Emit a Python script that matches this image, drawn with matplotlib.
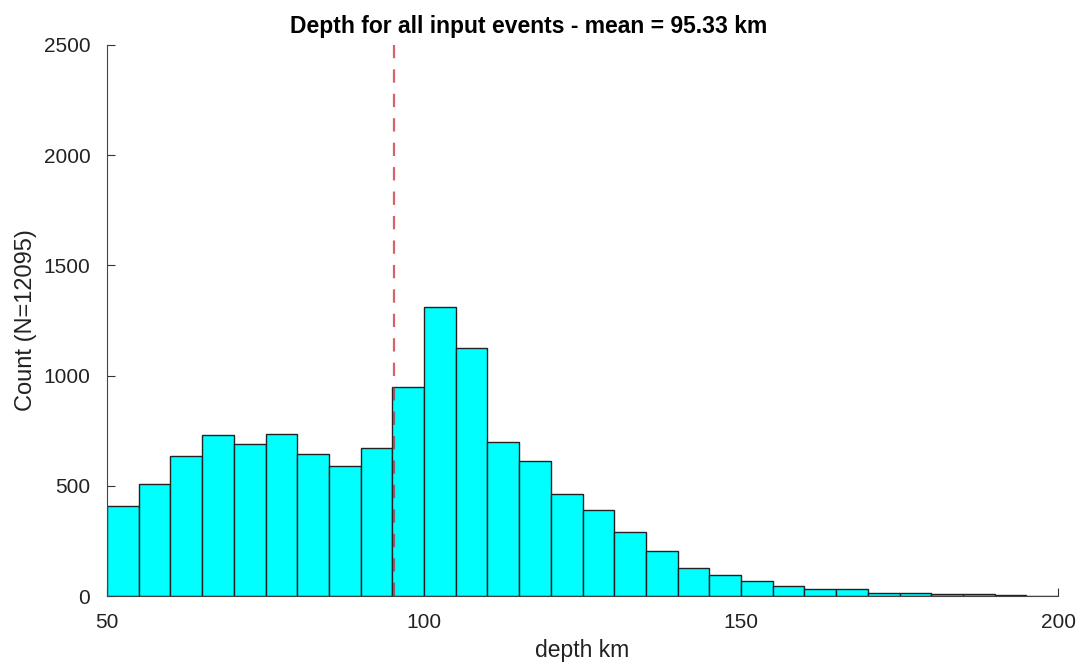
import numpy as np
import matplotlib
matplotlib.use("Agg")
import matplotlib.pyplot as plt

plt.rcParams['font.family'] = ['Liberation Sans', 'DejaVu Sans']

# histogram of depths, 5 km bins from 50 to 200
bin_edges = np.arange(50, 205, 5)
counts = [410, 510, 633, 730, 688, 733, 644, 591, 671, 948,
          1309, 1126, 697, 614, 464, 390, 291, 205, 127, 95,
          70, 47, 33, 33, 14, 14, 8, 8, 3, 1]
mean_depth = 95.33
n_events = 12095

fig = plt.figure(figsize=(10.8, 6.65), dpi=100)
ax = fig.add_axes([107 / 1080, 1 - 596 / 665, 951 / 1080, 551 / 665])

ax.bar(bin_edges[:-1], counts, width=5, align='edge',
       color='#00ffff', edgecolor='#222222', linewidth=1.0, zorder=2)
# semi-transparent red: pink on white, greyish over the cyan bars
ax.axvline(mean_depth, color='#c81e2e', alpha=0.7, linestyle=(0, (6, 5)),
           linewidth=1.6, zorder=3)

ax.set_xlim(50, 200)
ax.set_ylim(0, 2500)
ax.set_xticks([50, 100, 150, 200])
ax.set_yticks([0, 500, 1000, 1500, 2000, 2500])
ax.tick_params(direction='in', length=6, labelsize=15, colors='#333333',
               labelcolor='#222222', pad=12)
for side in ['top', 'right']:
    ax.spines[side].set_visible(False)
for side in ['left', 'bottom']:
    ax.spines[side].set_color('#444444')

ax.set_xlabel('depth km', fontsize=16.5, color='#222222', labelpad=5)
ax.set_ylabel(f'Count (N={n_events})', fontsize=17, color='#222222', labelpad=5)
fig.text(529 / 1080, 1 - 33 / 665,
         f'Depth for all input events - mean = {mean_depth:.2f} km',
         fontsize=16.5, fontweight='bold', ha='center', va='baseline')

fig.savefig('out.png', dpi=100, facecolor='white')
